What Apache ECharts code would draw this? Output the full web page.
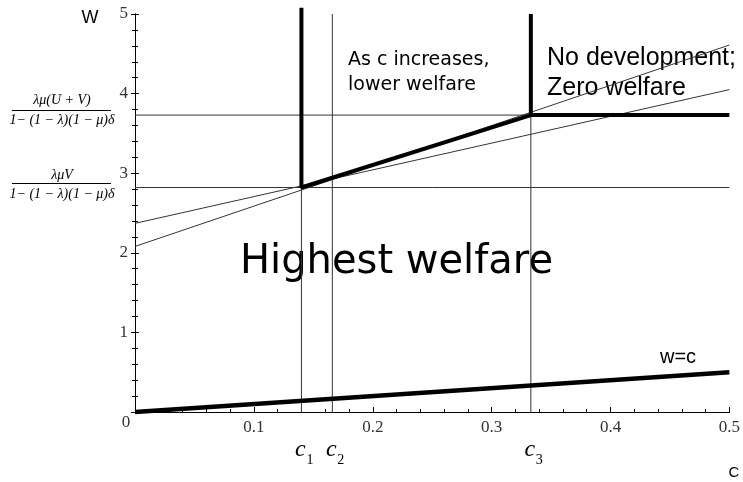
<!DOCTYPE html>
<html lang="en">
<head>
<meta charset="UTF-8">
<title>Welfare and c</title>
<script src="https://cdn.jsdelivr.net/npm/echarts@6/dist/echarts.min.js"></script>
<style>
    html, body {margin: 0; padding: 0; background: #fff;}
    #chart {width: 743px; height: 482px;}
</style>
</head>
<body>
<div id="chart"></div>
<script>
    // critical cost levels c1, c2, c3
    let cNames = ['1', '2', '3'];
    let cValues = [0.14, 0.166, 0.333];
    // welfare levels: lambda*mu*V/(...) and lambda*mu*(U+V)/(...)
    let wLevels = [2.82, 3.73];
    // the two thin welfare lines, [c, w] end points
    let steepLine = [[0, 2.08], [0.5, 4.61]];
    let shallowLine = [[0, 2.37], [0.5, 4.05]];
    // w = c
    let diagonal = [[0, 0], [0.5, 0.5]];
    let xMax = 0.5, yMax = 5;

    let c1 = cValues[0], c2 = cValues[1], c3 = cValues[2];
    let wLow = wLevels[0], wHigh = wLevels[1];

    // thick boundary of the regions
    let frontier = [[c1, 5.08], [c1, wLow], [c3, wHigh], [xMax, wHigh]];
    let c3Wall = [[c3, yMax], [c3, wHigh]];

    // thin guide lines
    let guides = [
        [[0, wLow], [xMax, wLow]],
        [[0, wHigh], [c3, wHigh]],
        [[c1, 0], [c1, wLow]],
        [[c2, 0], [c2, yMax]],
        [[c3, 0], [c3, wHigh]],
        steepLine,
        shallowLine
    ];

    function line(data, width, color, z) {
        return {
            type: 'line',
            data: data,
            symbol: 'none',
            clip: false,
            z: z,
            lineStyle: {width: width, color: color},
            animation: false
        };
    }

    let series = [];
    guides.forEach(function (g) {
        series.push(line(g, 1, '#333', 2));
    });
    series.push(line(frontier, 4, '#000', 3));
    series.push(line(c3Wall, 4, '#000', 3));
    series.push(line(diagonal, 4.5, '#000', 3));

    let tickFont = {fontFamily: 'Liberation Serif', fontSize: 17, color: '#333'};

    function xAx(inside, labels) {
        return {
            type: 'value', min: 0, max: xMax, interval: 0.1,
            axisLine: {lineStyle: {color: '#000', width: 1}},
            axisTick: {show: true, inside: inside, length: inside ? 5 : 2, lineStyle: {color: '#000'}},
            minorTick: {show: true, splitNumber: 5, length: 3, lineStyle: {color: '#000'}},
            splitLine: {show: false},
            axisLabel: Object.assign({show: labels, showMinLabel: false, margin: 7}, tickFont)
        };
    }

    function yAx(inside, labels) {
        return {
            type: 'value', min: 0, max: yMax, interval: 1, position: 'left',
            axisLine: {lineStyle: {color: '#000', width: 1}},
            axisTick: {show: true, inside: inside, length: 4, lineStyle: {color: '#000'}},
            minorTick: {show: true, splitNumber: 5, length: 3, lineStyle: {color: '#000'}},
            splitLine: {show: false},
            axisLabel: Object.assign({show: labels, showMinLabel: false, margin: 7}, tickFont)
        };
    }

    let myChart = echarts.init(document.getElementById('chart'));
    myChart.setOption({
        animation: false,
        grid: {left: 135, right: 10, top: 14, bottom: 70},
        xAxis: [xAx(true, true), xAx(false, false)],
        yAxis: [yAx(false, true), yAx(true, false)],
        series: series
    });

    function txt(x, y, text, font, align, extra) {
        return Object.assign({
            type: 'text', x: x, y: y, silent: true,
            style: {
                text: text, font: font, fill: '#000',
                textAlign: align, align: align,
                textVerticalAlign: 'middle', verticalAlign: 'middle'
            }
        }, extra || {});
    }

    let serif = '"Liberation Serif", serif';
    let graphic = [
        txt(90, 18, 'W', '18px "Liberation Sans"', 'center'),
        txt(126, 423, '0', '17px ' + serif, 'center', {style: {text: '0', font: '17px ' + serif, fill: '#333', textAlign: 'center', align: 'center', textVerticalAlign: 'middle', verticalAlign: 'middle'}}),
        txt(734, 473, 'C', '15px "Liberation Sans"', 'center'),
        txt(348, 60, 'As c increases,', '19px "DejaVu Sans"', 'left'),
        txt(348, 85, 'lower welfare', '19px "DejaVu Sans"', 'left'),
        txt(547, 58, 'No development;', '25px "Liberation Sans"', 'left'),
        txt(547, 88, 'Zero welfare', '25px "Liberation Sans"', 'left'),
        txt(240, 263, 'Highest welfare', '40px "DejaVu Sans"', 'left'),
        txt(660, 357, 'w=c', '20px "Liberation Sans"', 'left'),
        // formulas for the two welfare levels
        txt(62, 100, 'λμ(U + V)', 'italic 14px ' + serif, 'center'),
        {type: 'line', shape: {x1: 12, y1: 110.5, x2: 111, y2: 110.5}, style: {stroke: '#000', lineWidth: 1}},
        txt(62, 120, '1− (1 − λ)(1 − μ)δ', 'italic 14px ' + serif, 'center'),
        txt(62, 175, 'λμV', 'italic 14px ' + serif, 'center'),
        {type: 'line', shape: {x1: 12, y1: 183.5, x2: 111, y2: 183.5}, style: {stroke: '#000', lineWidth: 1}},
        txt(62, 194, '1− (1 − λ)(1 − μ)δ', 'italic 14px ' + serif, 'center')
    ];

    // c1, c2, c3 labels under the axis
    cValues.forEach(function (c, i) {
        let p = myChart.convertToPixel({gridIndex: 0}, [c, 0]);
        graphic.push(txt(p[0] - 1, 450, 'c', 'italic 24px ' + serif, 'center'));
        graphic.push(txt(p[0] + 5, 460, cNames[i], '14px ' + serif, 'left'));
    });

    myChart.setOption({graphic: graphic});
</script>
</body>
</html>
